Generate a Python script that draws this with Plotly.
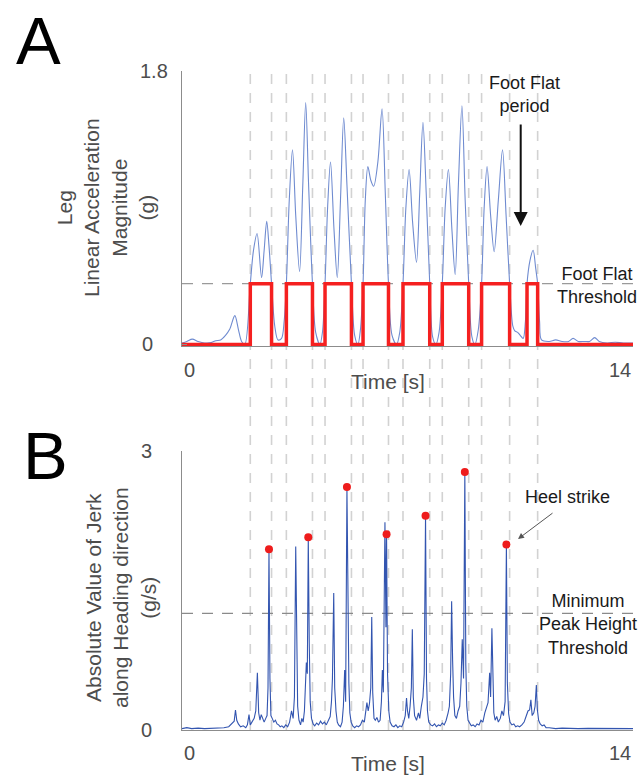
import plotly.graph_objects as go

# ---------------- Panel A: leg linear acceleration magnitude (g) ----------------
acc_t = [0.0, 0.15, 0.32, 0.5, 0.7, 0.9, 1.05, 1.2, 1.35, 1.48, 1.64, 1.75, 1.85, 1.95,
         2.12, 2.22, 2.33, 2.47, 2.55, 2.63, 2.70, 2.78, 2.88, 2.98, 3.09, 3.17,
         3.24, 3.33, 3.43, 3.53, 3.65, 3.75, 3.84, 3.93, 4.05, 4.15, 4.28, 4.36,
         4.44, 4.52, 4.61, 4.72, 4.82, 4.92, 5.02, 5.12, 5.26, 5.36, 5.46, 5.54,
         5.62, 5.69, 5.77, 5.86, 5.95, 6.08, 6.21, 6.31, 6.41, 6.52, 6.66, 6.76,
         6.86, 6.95, 7.05, 7.16, 7.28, 7.38, 7.48, 7.58, 7.69, 7.78, 7.88, 7.98,
         8.08, 8.17, 8.27, 8.38, 8.48, 8.58, 8.69, 8.79, 8.90, 9.00, 9.09, 9.20,
         9.30, 9.38, 9.47, 9.58, 9.69, 9.82, 9.95, 10.06, 10.17, 10.27, 10.33, 10.42,
         10.50, 10.59, 10.66, 10.71, 10.80, 10.90, 10.98, 11.04, 11.10, 11.16, 11.4,
         11.6, 11.8, 12.0, 12.14, 12.3, 12.5, 12.65, 12.81, 12.95, 13.2, 13.45, 13.7, 14.0]
acc_g = [0.01, 0.02, 0.035, 0.02, 0.01, 0.012, 0.025, 0.03, 0.06, 0.10, 0.19, 0.10, 0.02, 0.0,
         0.40, 0.62, 0.73, 0.44, 0.62, 0.81, 0.65, 0.40, 0.12, 0.03, 0.04, 0.15,
         0.40, 0.95, 1.28, 0.85, 0.48, 1.05, 1.59, 1.05, 0.40, 0.08, 0.0, 0.08,
         0.40, 0.90, 1.20, 0.75, 0.44, 0.95, 1.49, 1.05, 0.40, 0.06, 0.0, 0.10,
         0.40, 0.95, 1.17, 1.08, 1.04, 1.20, 1.55, 1.00, 0.40, 0.06, 0.0, 0.08,
         0.40, 0.90, 1.15, 0.80, 0.54, 1.00, 1.46, 1.00, 0.40, 0.05, 0.0, 0.08,
         0.40, 0.90, 1.15, 0.75, 0.46, 1.05, 1.57, 0.95, 0.40, 0.05, 0.0, 0.10,
         0.40, 0.90, 1.17, 0.85, 0.61, 0.95, 1.28, 0.85, 0.40, 0.12, 0.09, 0.08,
         0.06, 0.04, 0.15, 0.40, 0.55, 0.62, 0.50, 0.40, 0.15, 0.03, 0.02,
         0.03, 0.02, 0.02, 0.04, 0.02, 0.02, 0.02, 0.045, 0.02, 0.01, 0.015, 0.01, 0.01]

foot_flat_threshold = 0.4
foot_flat_on = [2.12, 3.24, 4.44, 5.62, 6.86, 8.08, 9.30, 10.71]
foot_flat_off = [2.78, 4.05, 5.26, 6.41, 7.69, 8.90, 10.17, 11.04]

# ---------------- Panel B: |jerk| along heading direction (g/s) ----------------
jerk_t = [0.0, 0.15, 0.3, 0.5, 0.7, 0.9, 1.1, 1.3, 1.45, 1.55, 1.62, 1.66, 1.70, 1.75, 1.82,
          1.9, 1.98, 2.03, 2.08, 2.12, 2.18, 2.24, 2.29, 2.34, 2.38, 2.42, 2.46, 2.50,
          2.55, 2.60, 2.64, 2.67, 2.70, 2.73, 2.76, 2.80, 2.85, 2.90, 2.95, 3.00, 3.05,
          3.10, 3.16, 3.22, 3.28, 3.34, 3.40, 3.45, 3.49, 3.53, 3.56, 3.59, 3.63, 3.68,
          3.72, 3.76, 3.80, 3.86, 3.89, 3.92, 3.95, 3.98, 4.02, 4.07, 4.12, 4.18, 4.24,
          4.30, 4.36, 4.42, 4.48, 4.54, 4.60, 4.64, 4.67, 4.71, 4.74, 4.78, 4.82, 4.86,
          4.92, 4.97, 5.01, 5.05, 5.08, 5.12, 5.15, 5.18, 5.21, 5.25, 5.30, 5.36, 5.42,
          5.48, 5.54, 5.60, 5.66, 5.71, 5.74, 5.78, 5.82, 5.86, 5.89, 5.92, 5.96, 6.00,
          6.05, 6.10, 6.15, 6.19, 6.22, 6.25, 6.28, 6.30, 6.33, 6.35, 6.38, 6.42, 6.46,
          6.52, 6.58, 6.64, 6.70, 6.76, 6.82, 6.88, 6.93, 6.97, 7.00, 7.04, 7.08, 7.12,
          7.15, 7.18, 7.22, 7.28, 7.34, 7.38, 7.43, 7.48, 7.52, 7.56, 7.59, 7.62, 7.66,
          7.72, 7.78, 7.84, 7.90, 7.96, 8.02, 8.08, 8.14, 8.20, 8.26, 8.30, 8.34, 8.37,
          8.40, 8.43, 8.47, 8.52, 8.57, 8.62, 8.66, 8.70, 8.74, 8.78, 8.81, 8.84, 8.88,
          8.93, 8.98, 9.04, 9.10, 9.16, 9.22, 9.28, 9.34, 9.40, 9.46, 9.50, 9.55, 9.58,
          9.62, 9.65, 9.68, 9.72, 9.77, 9.82, 9.88, 9.93, 9.98, 10.03, 10.07, 10.10,
          10.14, 10.18, 10.24, 10.30, 10.36, 10.42, 10.48, 10.55, 10.62, 10.68, 10.74,
          10.79, 10.83, 10.87, 10.92, 10.96, 11.00, 11.03, 11.07, 11.12, 11.18, 11.24,
          11.30, 11.40, 11.6, 11.8, 12.0, 12.3, 12.6, 13.0, 13.4, 13.8, 14.0]
jerk_v = [0.01, 0.02, 0.01, 0.015, 0.01, 0.012, 0.01, 0.02, 0.03, 0.06, 0.09, 0.21, 0.10, 0.06, 0.03,
          0.04, 0.02, 0.05, 0.16, 0.05, 0.08, 0.12, 0.20, 0.61, 0.18, 0.10, 0.16, 0.12,
          0.08, 0.12, 0.15, 0.45, 1.94, 0.55, 0.15, 0.12, 0.08, 0.10, 0.06, 0.05, 0.03,
          0.04, 0.02, 0.05, 0.03, 0.08, 0.20, 0.12, 0.35, 1.97, 0.68, 0.25, 0.10, 0.05,
          0.12, 0.08, 0.20, 0.72, 0.60, 2.07, 0.93, 0.30, 0.12, 0.06, 0.04, 0.07, 0.05,
          0.09, 0.06, 0.08, 0.05, 0.10, 0.14, 0.30, 0.55, 1.47, 0.45, 0.20, 0.08, 0.05,
          0.03, 0.08, 0.25, 0.64, 0.30, 2.61, 1.16, 0.50, 0.18, 0.08, 0.04, 0.02, 0.04,
          0.03, 0.05, 0.10, 0.08, 0.22, 0.29, 0.20, 0.28, 0.45, 1.21, 0.40, 0.12, 0.10,
          0.13, 0.08, 0.10, 0.30, 0.64, 0.40, 1.20, 2.23, 1.10, 2.10, 0.60, 0.20, 0.08,
          0.04, 0.03, 0.05, 0.02, 0.04, 0.03, 0.08, 0.15, 0.34, 0.20, 0.12, 0.25, 0.45,
          1.08, 0.35, 0.15, 0.10, 0.18, 0.12, 0.25, 0.35, 0.60, 2.30, 0.55, 0.20, 0.08,
          0.05, 0.04, 0.06, 0.03, 0.05, 0.04, 0.07, 0.05, 0.10, 0.18, 0.25, 0.60, 1.38,
          0.75, 0.35, 0.15, 0.12, 0.20, 0.25, 0.50, 0.97, 0.55, 2.77, 0.70, 0.25, 0.10,
          0.06, 0.04, 0.05, 0.03, 0.06, 0.05, 0.10, 0.08, 0.18, 0.25, 0.29, 0.61, 0.35,
          1.09, 0.40, 0.18, 0.10, 0.14, 0.08, 0.12, 0.20, 0.15, 0.30, 1.99, 0.50,
          0.17, 0.08, 0.05, 0.06, 0.03, 0.04, 0.03, 0.05, 0.08, 0.14, 0.20,
          0.21, 0.32, 0.15, 0.18, 0.25, 0.48, 0.22, 0.10, 0.06, 0.04, 0.05,
          0.02, 0.02, 0.01, 0.015, 0.01, 0.01, 0.012, 0.01, 0.01, 0.012, 0.01]

heel_strike_t = [2.70, 3.92, 5.12, 6.35, 7.56, 8.78, 10.07]
heel_strike_v = [1.94, 2.07, 2.61, 2.10, 2.30, 2.77, 1.99]
peak_height_threshold = 1.25

# gait event times shared by both panels
event_times = [2.12, 2.78, 3.24, 4.05, 4.44, 5.26, 5.62, 6.41, 6.86, 7.69,
               8.08, 8.90, 9.30, 10.17, 11.04]

time_ticks = [0, 14]
time_tick_labels = ["0", "14"]
acc_ticks = [0, 1.8]
acc_tick_labels = ["0", "1.8"]
jerk_ticks = [0, 3]
jerk_tick_labels = ["0", "3"]

W, H = 640, 776
FONT = "Liberation Sans, Arial, sans-serif"
GRAY_TXT = "#4d4d4d"
AXIS_GRAY = "#8c8c8c"

# square foot-flat indicator built from on/off edges
ff_x, ff_y = [0.0], [0.0]
for on, off in zip(foot_flat_on, foot_flat_off):
    ff_x += [on, on, off, off]
    ff_y += [0.0, foot_flat_threshold, foot_flat_threshold, 0.0]
ff_x.append(14.0)
ff_y.append(0.0)

def px(x):
    return x / W

def py(y):
    return 1 - y / H

fig = go.Figure()

fig.add_trace(go.Scatter(x=acc_t, y=acc_g, mode="lines", xaxis="x", yaxis="y",
                         line=dict(color="#6f8bd0", width=1.1, shape="spline", smoothing=0.9),
                         hoverinfo="skip"))
fig.add_trace(go.Scatter(x=ff_x, y=ff_y, mode="lines", xaxis="x", yaxis="y",
                         line=dict(color="#f52020", width=3.5), hoverinfo="skip"))

fig.add_trace(go.Scatter(x=jerk_t, y=jerk_v, mode="lines", xaxis="x2", yaxis="y2",
                         line=dict(color="#3355b0", width=1.1), hoverinfo="skip"))
fig.add_trace(go.Scatter(x=heel_strike_t, y=heel_strike_v, mode="markers", xaxis="x2", yaxis="y2",
                         marker=dict(color="#ee1c1c", size=8), cliponaxis=False, hoverinfo="skip"))

xA = [182 / W, 633 / W]
top_dom = [py(346), py(70.7)]
bot_dom = [py(730), py(450.7)]

axis_common = dict(showline=True, linecolor=AXIS_GRAY, linewidth=1, showgrid=False,
                   zeroline=False, ticks="inside", ticklen=5, tickcolor=AXIS_GRAY,
                   showticklabels=False)

fig.update_layout(
    width=W, height=H, margin=dict(l=0, r=0, t=0, b=0),
    paper_bgcolor="white", plot_bgcolor="white", showlegend=False,
    xaxis=dict(domain=xA, range=[0, 14], tickvals=time_ticks, anchor="y", **axis_common),
    yaxis=dict(domain=top_dom, range=[-0.01, 1.8], tickvals=acc_ticks, anchor="x", **axis_common),
    xaxis2=dict(domain=xA, range=[0, 14], tickvals=time_ticks, anchor="y2", **axis_common),
    yaxis2=dict(domain=bot_dom, range=[-0.005, 3], tickvals=jerk_ticks, anchor="x2", **axis_common),
)

shapes = []
for t in event_times:
    shapes.append(dict(type="line", xref="x", yref="paper", x0=t, x1=t,
                       y0=bot_dom[0], y1=top_dom[1], layer="below",
                       line=dict(color="#d2d2d2", width=1.6, dash="10px,9px")))
shapes.append(dict(type="line", xref="x", yref="y", x0=0, x1=14,
                   y0=foot_flat_threshold, y1=foot_flat_threshold, layer="below",
                   line=dict(color="#9a9a9a", width=1.2, dash="11px,9px")))
shapes.append(dict(type="line", xref="x2", yref="y2", x0=0, x1=14,
                   y0=peak_height_threshold, y1=peak_height_threshold, layer="below",
                   line=dict(color="#8a8a8a", width=1.2, dash="11px,9px")))
fig.update_layout(shapes=shapes)

ann = []

def text(x, y, s, size, color=GRAY_TXT, angle=0, xanchor="center"):
    ann.append(dict(xref="paper", yref="paper", x=px(x), y=py(y), text=s, showarrow=False,
                    xanchor=xanchor, yanchor="middle", textangle=angle,
                    font=dict(family=FONT, size=size, color=color)))

# panel letters
text(38, 40, "A", 67, "#000000")
text(45, 455, "B", 67, "#000000")

# tick labels
for v, lab in zip(acc_ticks, acc_tick_labels):
    ann.append(dict(xref="paper", yref="y", x=px(154 if lab == "1.8" else 147), y=v, text=lab,
                    showarrow=False, xanchor="center", yanchor="middle",
                    font=dict(family=FONT, size=20, color=GRAY_TXT)))
for v, lab in zip(jerk_ticks, jerk_tick_labels):
    ann.append(dict(xref="paper", yref="y2", x=px(146), y=v, text=lab,
                    showarrow=False, xanchor="center", yanchor="middle",
                    font=dict(family=FONT, size=20, color=GRAY_TXT)))
for xr, yv in (("x", 370), ("x2", 753)):
    for v, lab in zip(time_ticks, time_tick_labels):
        ann.append(dict(xref=xr, yref="paper", x=v, y=py(yv), text=lab, showarrow=False,
                        xanchor="left" if v == 0 else "right", yanchor="middle",
                        font=dict(family=FONT, size=20, color=GRAY_TXT)))

# axis titles
text(388, 381, "Time [s]", 21)
text(388, 763, "Time [s]", 21)
text(106, 208, "Leg<br>Linear Acceleration<br>Magnitude<br>(g)", 21, angle=-90)
text(121, 598, "Absolute Value of Jerk<br>along Heading direction<br>(g/s)", 21, angle=-90)

# callouts
text(524, 94, "Foot Flat<br>period", 18, "#1a1a1a")
text(597, 285, "Foot Flat<br>Threshold", 18, "#1a1a1a")
text(567, 497, "Heel strike", 18, "#1a1a1a")
text(588, 624, "Minimum<br>Peak Height<br>Threshold", 18, "#1a1a1a")

ann.append(dict(xref="paper", yref="paper", x=px(520.7), y=py(226), ax=0, ay=-103,
                axref="pixel", ayref="pixel", text="", showarrow=True,
                arrowhead=2, arrowsize=1.4, arrowwidth=2, arrowcolor="#111111"))
ann.append(dict(xref="paper", yref="paper", x=px(518), y=py(539), ax=36, ay=-27,
                axref="pixel", ayref="pixel", text="", showarrow=True,
                arrowhead=2, arrowsize=1.2, arrowwidth=1, arrowcolor="#555555"))

fig.update_layout(annotations=ann)

fig.write_html("out.html")
